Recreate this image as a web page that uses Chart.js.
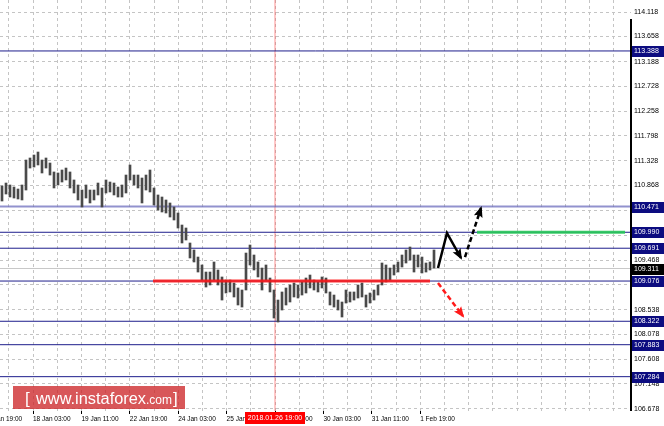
<!DOCTYPE html>
<html><head><meta charset="utf-8">
<script src="https://cdn.jsdelivr.net/npm/chart.js@4/dist/chart.umd.min.js"></script>
<style>html,body{margin:0;padding:0;background:#fff;}canvas{display:block;}</style>
</head><body>
<canvas id="c" width="664" height="426"></canvas>
<script>
// ---- data (prices) ----
const barHighs = [110.857,110.913,110.876,110.838,110.801,110.876,111.344,111.382,111.438,111.494,
111.344,111.382,111.288,111.120,111.101,111.157,111.194,111.120,110.970,110.876,
110.782,110.876,110.782,110.782,110.913,110.820,110.970,110.932,110.913,110.838,
110.876,111.063,111.251,111.063,111.063,111.007,111.063,111.157,110.820,110.689,
110.651,110.595,110.539,110.464,110.351,110.126,110.070,109.789,109.658,109.526,
109.377,109.245,109.245,109.433,109.283,109.152,109.095,109.095,109.039,108.946,
108.908,109.601,109.751,109.564,109.433,109.320,109.377,109.133,108.908,108.720,
108.871,108.946,109.002,109.039,109.002,109.058,109.133,109.189,109.095,109.058,
109.152,109.133,108.871,108.814,108.720,108.683,108.908,108.871,108.871,109.002,
109.039,108.814,108.852,108.908,109.002,109.414,109.377,109.320,109.377,109.433,
109.564,109.658,109.714,109.564,109.564,109.526,109.414,109.433,109.658];
const barLows = [110.576,110.707,110.651,110.632,110.614,110.595,110.782,111.194,111.213,111.251,
111.101,111.194,111.063,110.820,110.876,110.932,110.970,110.820,110.726,110.595,
110.464,110.632,110.539,110.595,110.689,110.464,110.726,110.745,110.689,110.651,
110.651,110.726,110.970,110.876,110.820,110.539,110.782,110.745,110.501,110.407,
110.370,110.351,110.276,110.220,110.070,109.789,109.845,109.508,109.433,109.245,
109.095,108.964,109.002,109.095,109.002,108.720,108.852,108.871,108.777,108.627,
108.589,108.908,109.377,109.283,109.152,108.908,109.095,108.871,108.383,108.308,
108.533,108.627,108.683,108.777,108.758,108.814,108.852,108.946,108.908,108.871,
108.946,108.852,108.627,108.589,108.533,108.402,108.664,108.683,108.720,108.758,
108.777,108.589,108.664,108.720,108.814,109.002,109.058,109.095,109.189,109.245,
109.339,109.414,109.470,109.245,109.339,109.227,109.245,109.283,109.320];
const yTickValues = [114.118,113.658,113.188,112.728,112.258,111.798,111.328,110.868,110.398,109.938,109.468,109.008,108.538,108.078,107.608,107.148,106.678];
const xTickLabels = ['17 Jan 19:00','18 Jan 03:00','19 Jan 11:00','22 Jan 19:00','24 Jan 03:00','25 Jan 11:00','26 Jan 19:00','30 Jan 03:00','31 Jan 11:00','1 Feb 19:00'];
const levelPrices = [113.388,110.471,109.990,109.691,109.076,108.322,107.883,107.284];
const lastPrice = 109.311;
const markedTimeLabel = '2018.01.26 19:00';
const markedTimeBar = 68.25;
const supportLine = [[37.75,109.076],[107,109.076]];
const targetLine = [[118.75,109.990],[155.75,109.990]];
const upPathSolid = [[109,109.320],[111.25,109.976],[114.75,109.508]];
const upPathDashed = [[115.75,109.526],[119.75,110.445]];
const downPathDashed = [[109,109.039],[109.9,108.95],[115.25,108.42]];

// ---- scale setup ----
const X_MIN = -0.5, X_MAX = 157.25;
const Y_MIN = 106.6405, Y_MAX = 114.343;
const FIRST_LABEL_BAR = -4.35, LABEL_STEP = 12.1;

const pts = a => a.map(p => ({x:p[0], y:p[1]}));
const hline = p => [{x:X_MIN,y:p},{x:X_MAX,y:p}];
const lineDs = (data, color, width, extra) => Object.assign({
  type:'line', data, borderColor:color, borderWidth:width, pointRadius:0,
  fill:false, tension:0, order:1 }, extra||{});

const datasets = [];
datasets.push(lineDs(hline(lastPrice), '#c8c8c8', 1, {order:5}));
levelPrices.forEach(p => {
  const light = p === 110.471;
  datasets.push(lineDs(hline(p), light ? 'rgba(110,110,190,0.75)' : '#1e1e8c', light ? 2 : 1, {order:4}));
});
datasets.push(lineDs([{x:markedTimeBar,y:Y_MIN},{x:markedTimeBar,y:Y_MAX}], 'rgba(255,70,70,0.6)', 1, {order:4}));
datasets.push({ type:'bar', data: barHighs.map((h,i)=>({x:i, y:[barLows[i], h]})),
  backgroundColor:'#4a4a4a', borderWidth:0, barThickness:2, order:3 });
datasets.push(lineDs(pts(supportLine), 'rgba(255,20,20,0.85)', 3, {order:2}));
datasets.push(lineDs(pts(targetLine), 'rgba(40,200,90,0.9)', 3, {order:2}));
datasets.push(lineDs(pts(upPathSolid), '#000', 2.5, {arrowHead:true}));
datasets.push(lineDs(pts(upPathDashed), '#000', 2.5, {arrowHead:true, borderDash:[5,3]}));
datasets.push(lineDs(pts(downPathDashed), '#ff1a1a', 2.5, {arrowHead:true, borderDash:[5,3]}));

const arrowPlugin = {
  id:'arrows',
  afterDatasetsDraw(chart){
    const ctx = chart.ctx;
    chart.data.datasets.forEach((ds, i) => {
      if (!ds.arrowHead) return;
      const m = chart.getDatasetMeta(i).data;
      const a = m[m.length-2], b = m[m.length-1];
      const ang = Math.atan2(b.y-a.y, b.x-a.x);
      const L = 9, W = 4.5;
      ctx.save();
      ctx.fillStyle = ds.borderColor;
      ctx.translate(b.x, b.y); ctx.rotate(ang);
      ctx.beginPath(); ctx.moveTo(2,0); ctx.lineTo(-L,-W); ctx.lineTo(-L+2,0); ctx.lineTo(-L,W); ctx.closePath(); ctx.fill();
      ctx.restore();
    });
  }
};

const overlayPlugin = {
  id:'overlay',
  afterDraw(chart){
    const ctx = chart.ctx, ys = chart.scales.y, xs = chart.scales.x, ca = chart.chartArea;
    ctx.save();
    ctx.fillStyle = '#000';
    ctx.fillRect(ca.right-1, 19, 2, ca.bottom-19);
    ctx.font = '7px "Liberation Sans", Arial, sans-serif';
    ctx.textBaseline = 'middle'; ctx.textAlign = 'left';
    const box = (p, col) => {
      const y = Math.round(ys.getPixelForValue(p));
      ctx.fillStyle = col; ctx.fillRect(ca.right+1, y-5, 664-ca.right, 11);
      ctx.fillStyle = '#fff'; ctx.fillText(p.toFixed(3), ca.right+3, y+0.5);
    };
    levelPrices.forEach(p => box(p, '#0c0c80'));
    box(lastPrice, '#000');
    const mx = xs.getPixelForValue(markedTimeBar);
    ctx.fillStyle = '#ff0000'; ctx.fillRect(mx-30, ca.bottom+1, 60, 12);
    ctx.fillStyle = '#fff'; ctx.textAlign = 'center';
    ctx.fillText(markedTimeLabel, mx, ca.bottom+7.5);
    // logo
    ctx.fillStyle = 'rgba(205,40,42,0.78)';
    ctx.fillRect(13, 386, 172, 23);
    ctx.fillStyle = '#fff'; ctx.textAlign = 'left'; ctx.textBaseline = 'alphabetic';
    ctx.font = '17px "Liberation Sans", Arial, sans-serif';
    ctx.fillText('[', 25, 404);
    ctx.fillText(']', 173, 404);
    ctx.font = '16px "Liberation Sans", Arial, sans-serif';
    const w1 = ctx.measureText('www.instaforex').width;
    ctx.save(); ctx.translate(36, 404); ctx.scale(110/w1, 1); ctx.fillText('www.instaforex', 0, 0); ctx.restore();
    ctx.font = '12px "Liberation Sans", Arial, sans-serif';
    ctx.fillText('.com', 146, 404);
    ctx.restore();
  }
};

new Chart(document.getElementById('c'), {
  type:'bar',
  data:{ datasets },
  plugins:[arrowPlugin, overlayPlugin],
  options:{
    responsive:false, animation:false, events:[], devicePixelRatio:1,
    layout:{padding:0},
    plugins:{legend:{display:false}, tooltip:{enabled:false}},
    scales:{
      x:{ type:'linear', min:X_MIN, max:X_MAX, offset:false,
        grid:{ offset:false, color:'#c4c4c4', lineWidth:1, drawTicks:true, tickLength:3,
          tickColor: c => (c.index % 2 === 0 && c.index/2 < xTickLabels.length) ? '#000' : 'rgba(0,0,0,0)' },
        border:{display:false, dash:[3,3]},
        afterBuildTicks: s => { const t=[]; for (let j=0;j<=54;j++){ const v=FIRST_LABEL_BAR+LABEL_STEP/2*j; if (v < X_MAX) t.push({value:v}); } s.ticks=t; },
        ticks:{ autoSkip:false, maxRotation:0, minRotation:0, align:'start', padding:1, color:'#000',
          font:{family:'"Liberation Sans", Arial, sans-serif', size:6.5},
          callback:(v,i) => (i%2===0 && xTickLabels[i/2]) ? xTickLabels[i/2] : '' },
        afterFit: s => { s.height = 15; s.paddingLeft = 0; s.paddingRight = 0; s.paddingTop = 0; s.paddingBottom = 0; }
      },
      y:{ type:'linear', position:'right', min:Y_MIN, max:Y_MAX, beginAtZero:false,
        grid:{ color:'#c4c4c4', lineWidth:1, drawTicks:false },
        border:{display:false, dash:[3,3]},
        afterBuildTicks: s => { s.ticks = yTickValues.map(v=>({value:v})); },
        ticks:{ padding:3, color:'#000', font:{family:'"Liberation Sans", Arial, sans-serif', size:7},
          callback: v => Number(v).toFixed(3) },
        afterFit: s => { s.width = 33; s.paddingLeft = 0; s.paddingRight = 0; s.paddingTop = 0; s.paddingBottom = 0; }
      }
    }
  }
});
</script>
</body></html>
